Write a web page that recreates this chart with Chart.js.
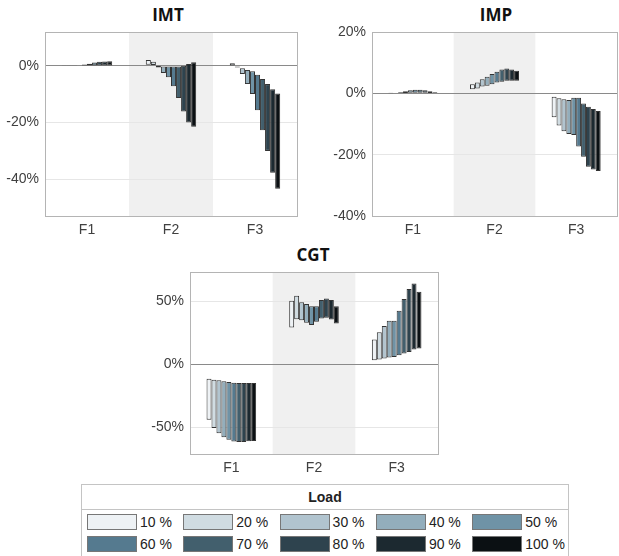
<!DOCTYPE html>
<html>
<head>
<meta charset="utf-8">
<script src="https://cdn.jsdelivr.net/npm/chart.js@4.4.1/dist/chart.umd.min.js"></script>
<style>
body { margin:0; background:#fff; width:619px; height:556px; position:relative; overflow:hidden; font-family:'Liberation Sans', Arial, sans-serif; }
canvas { position:absolute; }
.title { position:absolute; font-family:'Open Sans', sans-serif; font-weight:700; font-size:17px; color:#111; transform:translateX(-50%); line-height:20px; }
#legend { position:absolute; left:81px; top:484px; width:486px; height:80px; border:1px solid #c4c4c4; background:#fff; }
#legend .head { height:24px; line-height:24px; text-align:center; font-weight:700; font-size:14px; color:#222; border-bottom:1px solid #c4c4c4; }
#legend .item { position:absolute; font-size:14px; color:#222; line-height:16px; }
#legend .sw { position:absolute; left:0; top:0; width:48px; height:14px; border:1px solid #777; }
#legend .lab { position:absolute; left:53px; top:0; white-space:nowrap; }
</style>
</head>
<body>
<div class="title" style="left:168px;top:5px">IMT</div>
<div class="title" style="left:496px;top:5px">IMP</div>
<div class="title" style="left:313px;top:245px">CGT</div>
<canvas id="imt" width="299" height="214" style="left:0;top:27px"></canvas>
<canvas id="imp" width="299" height="219" style="left:320px;top:22px"></canvas>
<canvas id="cgt" width="300" height="217" style="left:140px;top:262px"></canvas>
<div id="legend"><div class="head">Load</div></div>
<script>
// categories and load levels
const categories = ['F1', 'F2', 'F3'];
const loads = ['10 %', '20 %', '30 %', '40 %', '50 %', '60 %', '70 %', '80 %', '90 %', '100 %'];
const loadColors = ['#eef2f5', '#d0dce2', '#b1c4cf', '#93aebc', '#6f93a6',
                    '#557a8f', '#425f6d', '#2e434e', '#1c2930', '#0b1013'];

// IMT: bar bottom / top per category (one value per load)
const imtLow = [
    [0, 0, 0, 0, 0, 0, 0, 0, 0, 0],
    [0.4, 0.3, -0.5, -2.5, -4, -7.2, -11.3, -16.1, -20, -21.5],
    [0, -0.5, -2.8, -6.4, -9.9, -15.6, -22.7, -30, -37.7, -43.4]
];
const imtHigh = [
    [0.05, 0.05, 0.1, 0.2, 0.5, 0.8, 1.2, 1.5, 1.6, 1.7],
    [2.1, 1.5, 0.1, -0.2, -0.2, -0.2, -0.2, 0.1, 0.7, 1.3],
    [1.0, 0, -0.8, -1.4, -1.9, -3.1, -4.6, -6.4, -8.2, -9.7]
];

// IMP
const impLow = [
    [0, 0, 0, 0.1, 0.2, 0.2, 0.2, 0.2, 0.1, 0],
    [1.3, 1.6, 2.2, 2.5, 3.0, 3.5, 3.8, 4.1, 4.1, 4.1],
    [-7.8, -10.5, -12.4, -13.3, -13.6, -17.3, -20.7, -23.9, -24.8, -25.3]
];
const impHigh = [
    [0.05, 0.2, 0.4, 0.7, 1.0, 1.2, 1.2, 1.0, 0.7, 0.4],
    [3.0, 3.5, 4.6, 5.4, 6.3, 7.0, 7.8, 8.1, 7.8, 7.4],
    [-1.1, -1.6, -1.9, -2.2, -1.4, -1.4, -3.3, -4.4, -5.1, -5.8]
];

// CGT
const cgtLow = [
    [-43.9, -50.5, -54.5, -57.7, -59.8, -61.1, -61.6, -61.6, -61, -60.8],
    [29.1, 35.7, 34.9, 32.8, 31, 33.6, 36.3, 36.8, 35.4, 32.3],
    [3.2, 3.7, 4.5, 5.3, 5.8, 7.1, 8.5, 9.8, 11.6, 12.4]
];
const cgtHigh = [
    [-11.4, -12.2, -12.7, -13.5, -14, -14.6, -14.8, -14.8, -14.8, -14.8],
    [50.3, 54.2, 49, 47.6, 46, 46, 50.8, 52.1, 50.8, 46],
    [19.6, 25.4, 30.2, 34.4, 34.4, 42.3, 51.6, 59.5, 64, 57.4]
];

// y tick labels
const imtTicks = [-40, -20, 0];
const impTicks = [-40, -20, 0, 20];
const cgtTicks = [-50, 0, 50];

// shaded middle category + box around the plot
const panelPlugin = {
    id: 'panel',
    beforeDraw(chart) {
        const a = chart.chartArea;
        const x = chart.scales.x;
        const w = (a.right - a.left) / categories.length;
        const cx = x.getPixelForValue(1);
        const ctx = chart.ctx;
        ctx.save();
        ctx.fillStyle = '#f0f0f0';
        ctx.fillRect(cx - w / 2, a.top, w, a.bottom - a.top);
        ctx.restore();
    },
    afterDraw(chart) {
        const a = chart.chartArea;
        const ctx = chart.ctx;
        ctx.save();
        ctx.strokeStyle = '#b4b4b4';
        ctx.lineWidth = 1;
        ctx.strokeRect(Math.round(a.left) + 0.5, Math.round(a.top) + 0.5,
            Math.round(a.right - a.left), Math.round(a.bottom - a.top));
        ctx.restore();
    }
};

function makeChart(id, low, high, yMin, yMax, tickVals, yWidth, padTop) {
    const datasets = loads.map((name, i) => ({
        label: name,
        data: categories.map((c, j) => [low[j][i], high[j][i]]),
        backgroundColor: loadColors[i],
        borderColor: '#333',
        borderWidth: 1,
        borderSkipped: false,
        categoryPercentage: 0.6,
        barPercentage: 1.0
    }));
    return new Chart(document.getElementById(id), {
        type: 'bar',
        data: { labels: categories, datasets: datasets },
        options: {
            responsive: false,
            animation: false,
            devicePixelRatio: 1,
            layout: { padding: { top: padTop, right: 2, left: 0, bottom: 0 } },
            plugins: { legend: { display: false }, tooltip: { enabled: false } },
            scales: {
                x: {
                    grid: { display: false, drawTicks: false },
                    border: { display: false },
                    ticks: { color: '#404040', font: { size: 14, family: 'Liberation Sans' }, padding: 6 },
                    afterFit(scale) {
                        scale.height = 25;
                        scale.paddingLeft = 0;
                        scale.paddingRight = 0;
                    }
                },
                y: {
                    min: yMin,
                    max: yMax,
                    grid: {
                        drawTicks: false,
                        color: ctx => ctx.tick && ctx.tick.value === 0 ? '#8a8a8a' : '#e6e6e6'
                    },
                    border: { display: false },
                    ticks: {
                        color: '#404040',
                        font: { size: 14, family: 'Liberation Sans' },
                        padding: 6,
                        callback: v => v + '%'
                    },
                    afterBuildTicks(scale) { scale.ticks = tickVals.map(v => ({ value: v })); },
                    afterFit(scale) {
                        scale.width = yWidth;
                        scale.paddingTop = 0;
                        scale.paddingBottom = 0;
                    }
                }
            }
        },
        plugins: [panelPlugin]
    });
}

makeChart('imt', imtLow, imtHigh, -53, 12, imtTicks, 45, 5);
makeChart('imp', impLow, impHigh, -40, 20, impTicks, 52, 10);
makeChart('cgt', cgtLow, cgtHigh, -71, 73, cgtTicks, 50, 10);

// legend
const legend = document.getElementById('legend');
loads.forEach((name, i) => {
    const item = document.createElement('div');
    item.className = 'item';
    item.style.left = (5 + (i % 5) * 96.3) + 'px';
    item.style.top = (29 + Math.floor(i / 5) * 22) + 'px';
    item.innerHTML = '<div class="sw" style="background:' + loadColors[i] + '"></div><div class="lab">' + name + '</div>';
    legend.appendChild(item);
});
</script>
</body>
</html>
